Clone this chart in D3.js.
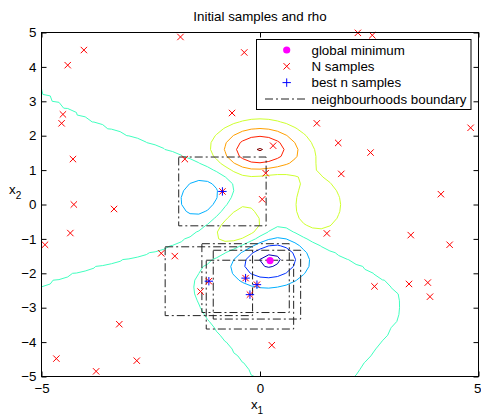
<!DOCTYPE html>
<html>
<head>
<meta charset="utf-8">
<script src="https://cdn.jsdelivr.net/npm/d3@7"></script>
<style>
  html, body { margin: 0; padding: 0; background: #fff; }
  svg { display: block; }
  text { font-family: "Liberation Sans", Arial, Helvetica, sans-serif; font-size: 13.33px; fill: #000; }
</style>
</head>
<body>
<svg id="chart" width="481" height="416"></svg>
<script>
// ---- data ----
const xTicks = [-5, 0, 5];
const yTicks = [-5, -4, -3, -2, -1, 0, 1, 2, 3, 4, 5];

// all N samples (x1, x2)
const samplesX1 = [-1.82, -4.03, -4.40, -4.51, -4.54, -4.28, -0.64, -1.72, -3.34, -4.26,
                    2.24,  2.57, -0.36,  1.30,  4.82,  0.30,  1.79,  2.53,  1.86,  0.13,
                    0.05,  4.14, -4.34, -4.92, -2.26, -1.95, -1.36, -1.17, -3.22, -4.66,
                   -2.82, -3.75,  1.53,  3.45,  4.34,  2.62,  3.41,  3.84,  3.89,  0.27,
                   -0.33, -0.07, -0.23, -0.86];
const samplesX2 = [ 4.87,  4.49,  4.05,  2.62,  2.36,  1.32,  2.66,  1.32, -0.13,  0.00,
                    4.99,  4.92,  4.42,  2.36,  2.23,  1.71,  1.79,  1.51,  0.89,  0.91,
                    0.15,  0.30, -0.83, -1.17, -1.42, -1.50, -2.53, -2.23, -3.48, -4.48,
                   -4.54, -4.85, -0.84, -0.89, -1.17, -2.38, -2.31, -2.27, -2.68, -4.09,
                   -2.14, -2.33, -2.62,  0.38];

// best n samples
const bestX1 = [-0.86, -1.17, -0.33, -0.07, -0.23];
const bestX2 = [ 0.38, -2.23, -2.14, -2.33, -2.62];

// half-width of each square neighbourhood
const neighbourhoodRadius = 1.0;

// global minimum of the surface
const globalMin = [0.23, -1.63];

// contour levels of rho and their colours (jet colormap)
const contourLevels = [-6, -4, -2, 0, 2, 4, 6, 8];
const contourColors = ["#0000af", "#0030ff", "#00afff", "#40ffbf", "#cfff30", "#ff9f00", "#ff2000", "#800000"];

const legendLabels = ["global minimum", "N samples", "best n samples", "neighbourhoods boundary"];

// ---- surface (peaks) ----
function rho(x, y) {
  return 3 * Math.pow(1 - x, 2) * Math.exp(-x * x - Math.pow(y + 1, 2))
       - 10 * (x / 5 - Math.pow(x, 3) - Math.pow(y, 5)) * Math.exp(-x * x - y * y)
       - (1 / 3) * Math.exp(-Math.pow(x + 1, 2) - y * y);
}
const gridStep = 0.2;
const gridMin = -5;
const gridN = Math.round(10 / gridStep) + 1;
const gridValues = new Array(gridN * gridN);
for (let j = 0; j < gridN; j++) {
  for (let i = 0; i < gridN; i++) {
    gridValues[j * gridN + i] = rho(gridMin + i * gridStep, gridMin + j * gridStep);
  }
}

// ---- layout ----
const svg = d3.select("#chart");
const plot = { left: 41.5, right: 478.5, top: 32.5, bottom: 376.5 };
const x = d3.scaleLinear().domain([-5, 5]).range([plot.left, plot.right]);
const y = d3.scaleLinear().domain([-5, 5]).range([plot.bottom, plot.top]);

svg.append("defs").append("clipPath").attr("id", "plotClip")
  .append("rect")
  .attr("x", plot.left).attr("y", plot.top)
  .attr("width", plot.right - plot.left).attr("height", plot.bottom - plot.top);

// contours
const contours = d3.contours().size([gridN, gridN]).thresholds(contourLevels)(gridValues);
const gridProjection = d3.geoTransform({
  point: function (cx, cy) {
    this.stream.point(x(gridMin + (cx - 0.5) * gridStep), y(gridMin + (cy - 0.5) * gridStep));
  }
});
const contourPath = d3.geoPath(gridProjection);
svg.append("g").attr("clip-path", "url(#plotClip)")
  .selectAll("path").data(contours).join("path")
  .attr("d", contourPath)
  .attr("fill", "none")
  .attr("stroke", (d, i) => contourColors[i])
  .attr("stroke-width", 1);

// neighbourhood boxes
const dashDot = "8,3,2,3";
svg.append("g").selectAll("rect").data(d3.range(bestX1.length)).join("rect")
  .attr("x", i => x(bestX1[i] - neighbourhoodRadius))
  .attr("y", i => y(bestX2[i] + neighbourhoodRadius))
  .attr("width", i => x(bestX1[i] + neighbourhoodRadius) - x(bestX1[i] - neighbourhoodRadius))
  .attr("height", i => y(bestX2[i] - neighbourhoodRadius) - y(bestX2[i] + neighbourhoodRadius))
  .attr("fill", "none")
  .attr("stroke", "#222")
  .attr("stroke-width", 1)
  .attr("stroke-dasharray", dashDot);

// markers
const crossSize = 3.2, plusSize = 4.2;
function crossPath(cx, cy, s) {
  return `M${cx - s},${cy - s}L${cx + s},${cy + s}M${cx - s},${cy + s}L${cx + s},${cy - s}`;
}
function plusPath(cx, cy, s) {
  return `M${cx - s},${cy}L${cx + s},${cy}M${cx},${cy - s}L${cx},${cy + s}`;
}

svg.append("circle")
  .attr("cx", x(globalMin[0])).attr("cy", y(globalMin[1])).attr("r", 3.6)
  .attr("fill", "#ff00ff");

svg.append("g").selectAll("path").data(d3.range(samplesX1.length)).join("path")
  .attr("d", i => crossPath(x(samplesX1[i]), y(samplesX2[i]), crossSize))
  .attr("stroke", "#ff0000").attr("stroke-width", 1).attr("fill", "none");

svg.append("g").selectAll("path").data(d3.range(bestX1.length)).join("path")
  .attr("d", i => plusPath(x(bestX1[i]), y(bestX2[i]), plusSize))
  .attr("stroke", "#0000ff").attr("stroke-width", 1).attr("fill", "none");

// axes
const axisStyle = g => {
  g.select(".domain").remove();
  g.selectAll(".tick line").attr("stroke", "#000");
  g.selectAll("text").attr("font-family", null).attr("font-size", null);
};
const bottomAxis = svg.append("g").attr("transform", `translate(0,${plot.bottom})`)
  .call(d3.axisBottom(x).tickValues(xTicks).tickSizeInner(-5).tickSizeOuter(0).tickPadding(7).tickFormat(d3.format("d")))
  .call(axisStyle);
// keep the last label inside the canvas
bottomAxis.selectAll(".tick text").filter(d => d === xTicks[xTicks.length - 1])
  .attr("text-anchor", "end").attr("x", 2.5);
svg.append("g").attr("transform", `translate(0,${plot.top})`)
  .call(d3.axisTop(x).tickValues(xTicks).tickSizeInner(-5).tickSizeOuter(0).tickFormat(""))
  .call(axisStyle);
svg.append("g").attr("transform", `translate(${plot.left},0)`)
  .call(d3.axisLeft(y).tickValues(yTicks).tickSizeInner(-5).tickSizeOuter(0).tickPadding(5).tickFormat(d3.format("d")))
  .call(axisStyle);
svg.append("g").attr("transform", `translate(${plot.right},0)`)
  .call(d3.axisRight(y).tickValues(yTicks).tickSizeInner(-5).tickSizeOuter(0).tickFormat(""))
  .call(axisStyle);
svg.selectAll(".tick text").attr("fill", "#000");

svg.append("rect")
  .attr("x", plot.left).attr("y", plot.top)
  .attr("width", plot.right - plot.left).attr("height", plot.bottom - plot.top)
  .attr("fill", "none").attr("stroke", "#000").attr("stroke-width", 1);

// title and axis labels
svg.append("text").attr("x", 260).attr("y", 21).attr("text-anchor", "middle").text("Initial samples and rho");
const xl = svg.append("text").attr("x", 257).attr("y", 409).attr("text-anchor", "middle");
xl.append("tspan").text("x");
xl.append("tspan").attr("dy", 5).attr("font-size", "10px").text("1");
const yl = svg.append("text").attr("x", 9).attr("y", 194);
yl.append("tspan").text("x");
yl.append("tspan").attr("dy", 5).attr("font-size", "10px").text("2");

// legend
const legend = svg.append("g");
legend.append("rect")
  .attr("x", 256.5).attr("y", 39.5).attr("width", 214.5).attr("height", 70)
  .attr("fill", "#fff").attr("stroke", "#000").attr("stroke-width", 1);
const rowY = [50, 66.3, 82.6, 99];
const markX = 286.7;
legend.append("circle").attr("cx", markX).attr("cy", rowY[0]).attr("r", 3.6).attr("fill", "#ff00ff");
legend.append("path").attr("d", crossPath(markX, rowY[1], crossSize)).attr("stroke", "#ff0000").attr("fill", "none");
legend.append("path").attr("d", plusPath(markX, rowY[2], plusSize)).attr("stroke", "#0000ff").attr("fill", "none");
legend.append("line").attr("x1", 265).attr("x2", 306).attr("y1", rowY[3]).attr("y2", rowY[3])
  .attr("stroke", "#222").attr("stroke-dasharray", dashDot);
legend.selectAll("text.lbl").data(legendLabels).join("text").attr("class", "lbl")
  .attr("x", 311.5).attr("y", (d, i) => rowY[i] + 4.7).text(d => d);
</script>
</body>
</html>
